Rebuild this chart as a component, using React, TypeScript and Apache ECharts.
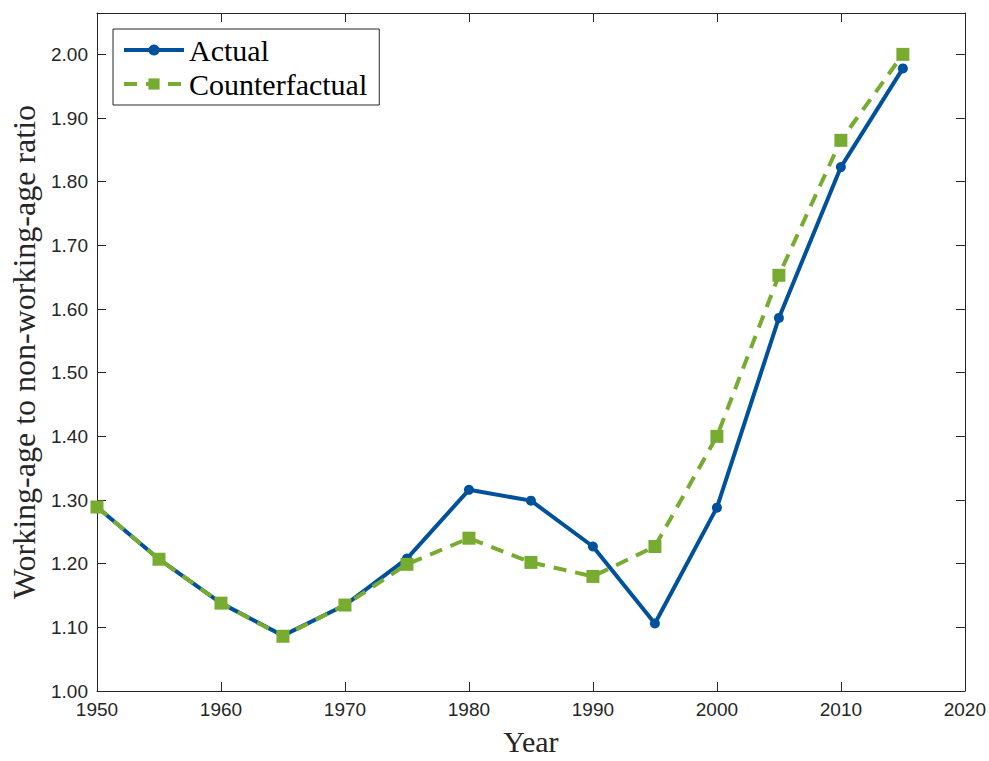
import React, { useEffect, useRef } from "react";
import * as echarts from "echarts";

const years = [1950, 1955, 1960, 1965, 1970, 1975, 1980, 1985, 1990, 1995, 2000, 2005, 2010, 2015];
const actual = [1.289, 1.207, 1.138, 1.087, 1.135, 1.208, 1.316, 1.299, 1.227, 1.106, 1.288, 1.586, 1.823, 1.978];
const counterfactual = [1.289, 1.207, 1.138, 1.086, 1.135, 1.199, 1.240, 1.202, 1.180, 1.227, 1.400, 1.653, 1.865, 2.0];

const BLUE = "#00519b";
const GREEN = "#77ac30";
const AXIS = "#262626";
const SANS = "'Liberation Sans', Arial, sans-serif";
const SERIF = "'Liberation Serif', 'Times New Roman', serif";

export default function App() {
  const ref = useRef<HTMLDivElement>(null);

  useEffect(() => {
    if (!ref.current) return;
    const chart = echarts.init(ref.current, undefined, { renderer: "svg" });

    const axisLine = { show: true, lineStyle: { color: AXIS, width: 1 } };
    const tick = { show: true, inside: true, length: 9, lineStyle: { color: AXIS, width: 1 } };

    chart.setOption({
      animation: false,
      backgroundColor: "#ffffff",
      // plot box anchored to the top-left corner with a fixed size
      grid: { left: 97, top: 13, width: 869, height: 685, containLabel: false },
      legend: {
        orient: "vertical",
        left: 113,
        top: 29,
        padding: [6, 12, 6, 9],
        itemGap: 4,
        itemWidth: 60,
        itemHeight: 14,
        backgroundColor: "#ffffff",
        borderColor: AXIS,
        borderWidth: 1,
        borderRadius: 0,
        lineStyle: { width: 4 },
        textStyle: { fontFamily: SERIF, fontSize: 30, lineHeight: 30, color: "#000" },
        data: ["Actual", "Counterfactual"],
      },
      xAxis: [
        {
          type: "value",
          position: "bottom",
          min: 1950,
          max: 2020,
          interval: 10,
          name: "Year",
          nameLocation: "middle",
          nameGap: 35,
          nameTextStyle: { fontFamily: SERIF, fontSize: 30, color: AXIS },
          axisLine,
          axisTick: tick,
          splitLine: { show: false },
          axisLabel: {
            fontFamily: SANS,
            fontSize: 19,
            color: AXIS,
            margin: 9,
            formatter: (v: number) => String(v),
          },
        },
        {
          type: "value",
          position: "top",
          min: 1950,
          max: 2020,
          interval: 10,
          axisLine,
          axisTick: tick,
          splitLine: { show: false },
          axisLabel: { show: false },
        },
      ],
      yAxis: [
        {
          type: "value",
          position: "left",
          min: 1,
          max: 2.065,
          interval: 0.1,
          name: "Working-age to non-working-age ratio",
          nameLocation: "middle",
          nameGap: 54,
          nameTextStyle: { fontFamily: SERIF, fontSize: 32, color: AXIS },
          axisLine,
          axisTick: tick,
          splitLine: { show: false },
          axisLabel: {
            fontFamily: SANS,
            fontSize: 19,
            color: AXIS,
            margin: 9,
            showMaxLabel: false,
            formatter: (v: number) => v.toFixed(2),
          },
        },
        {
          type: "value",
          position: "right",
          min: 1,
          max: 2.065,
          interval: 0.1,
          axisLine,
          axisTick: tick,
          splitLine: { show: false },
          axisLabel: { show: false },
        },
      ],
      series: [
        {
          name: "Actual",
          type: "line",
          xAxisIndex: 0,
          yAxisIndex: 0,
          data: years.map((y, i) => [y, actual[i]]),
          symbol: "circle",
          symbolSize: 10,
          itemStyle: { color: BLUE },
          lineStyle: { color: BLUE, width: 4 },
        },
        {
          name: "Counterfactual",
          type: "line",
          xAxisIndex: 0,
          yAxisIndex: 0,
          data: years.map((y, i) => [y, counterfactual[i]]),
          symbol: "rect",
          symbolSize: 13,
          itemStyle: { color: GREEN },
          lineStyle: { color: GREEN, width: 4, type: [13, 9] },
        },
      ],
    });

    return () => chart.dispose();
  }, []);

  return (
    <div
      ref={ref}
      style={{ position: "fixed", left: 0, top: 0, width: 989, height: 761, overflow: "hidden" }}
    />
  );
}
